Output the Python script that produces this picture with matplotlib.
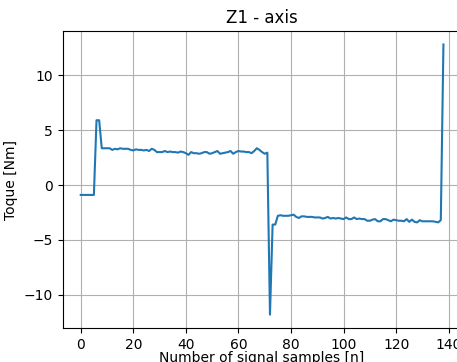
import numpy as np
import matplotlib
matplotlib.use("Agg")
import matplotlib.pyplot as plt

# Torque samples
inicio = [-0.9] * 6
pico = [5.9, 5.9]
patamar_alto = [3.35, 3.35, 3.35, 3.35, 3.2, 3.3, 3.25, 3.35, 3.3, 3.3,
                3.3, 3.2, 3.15, 3.25, 3.2, 3.2, 3.15, 3.2, 3.1, 3.3,
                3.2, 3.0, 3.0, 3.0, 3.1, 3.0, 3.05, 3.0, 3.0, 2.95,
                3.05, 3.0, 2.9, 2.75, 3.0, 2.9, 2.9, 2.85, 2.9, 3.0,
                3.0, 2.85, 2.9, 3.0, 3.1, 2.85, 2.9, 2.95, 3.0, 3.1,
                2.85, 3.0, 3.1, 3.05, 3.05, 3.0, 3.0, 2.9, 3.1, 3.35,
                3.2, 3.0, 2.85, 2.95]
vale = [-11.8]
patamar_baixo = [-3.6, -3.6, -2.8, -2.75, -2.8, -2.8, -2.8, -2.75, -2.7, -2.9,
                 -3.0, -2.85, -2.85, -2.9, -2.9, -2.9, -2.95, -2.95, -2.95, -3.05,
                 -3.0, -2.9, -3.05, -3.0, -3.05, -3.0, -3.05, -3.1, -2.95, -3.1,
                 -3.1, -2.95, -3.1, -3.05, -3.1, -3.1, -3.25, -3.25, -3.15, -3.1,
                 -3.3, -3.3, -3.1, -3.1, -3.2, -3.3, -3.15, -3.2, -3.25, -3.25,
                 -3.3, -3.1, -3.35, -3.15, -3.35, -3.4, -3.2, -3.3, -3.3, -3.3,
                 -3.3, -3.3, -3.35, -3.4, -3.2]
final = [12.8]

torque = inicio + pico + patamar_alto + vale + patamar_baixo + final
amostras = np.arange(len(torque))

fig = plt.figure(figsize=(4.57, 3.62), dpi=100)
ax = fig.add_axes([0.137, 0.0935, 0.873, 0.821])
ax.plot(amostras, torque, color='tab:blue', linewidth=1.5)
ax.set_title('Z1 - axis')
ax.set_xlabel('Number of signal samples [n]', labelpad=-0.5)
ax.set_ylabel('Toque [Nm]')
ax.set_xticks([0, 20, 40, 60, 80, 100, 120, 140])
ax.set_yticks([-10, -5, 0, 5, 10])
ax.grid(True)

fig.savefig('out.png', dpi=100)
